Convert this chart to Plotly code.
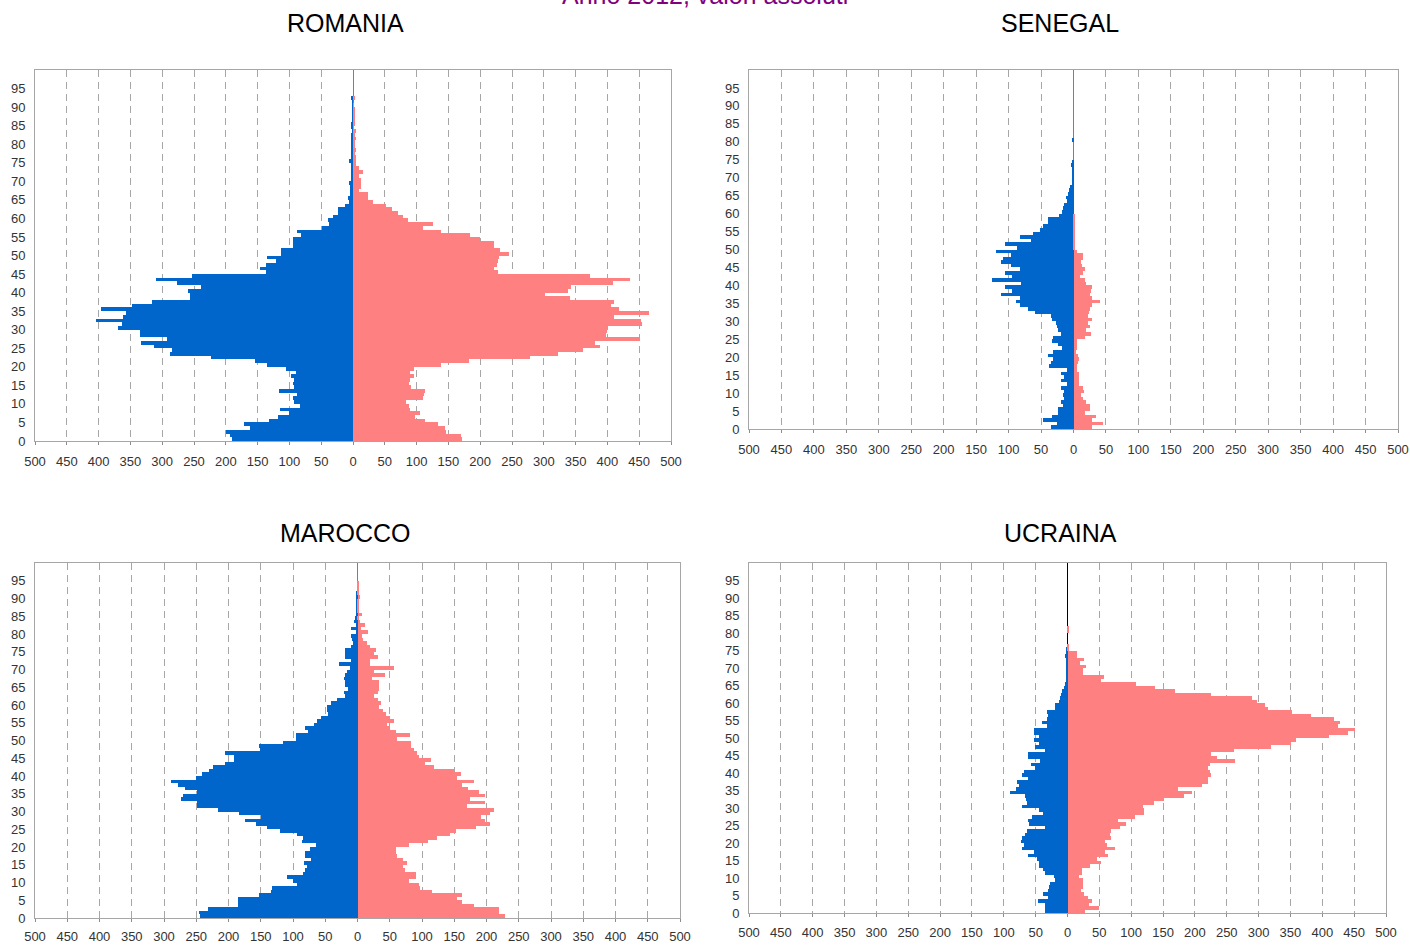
import plotly.graph_objects as go
from plotly.subplots import make_subplots

W, H = 1410, 945
AGES = list(range(100))

def pad(v):
    return v + [0] * (100 - len(v))

# ---------------- data (ages 0..99) ----------------
RO_M = pad([190, 193, 199, 162, 171, 132, 118, 101, 115, 84, 92, 94, 88, 116, 92, 94, 92, 97, 90, 106,
            135, 154, 223, 287, 285, 313, 333, 293, 335, 335, 369, 364, 404, 362, 357, 397, 348, 316, 256, 257,
            259, 239, 276, 309, 253, 137, 147, 137, 121, 135, 114, 113, 95, 95, 94, 82, 88, 48, 38, 40,
            31, 23, 23, 12, 7, 8, 4, 5, 5, 7, 3, 3, 3, 3, 2, 7, 3, 3, 3, 3,
            3, 2, 2, 1, 2, 2, 1, 1, 1, 1, 1, 1, 2])
RO_F = pad([172, 170, 146, 144, 134, 113, 98, 106, 89, 88, 83, 110, 112, 113, 91, 88, 89, 96, 90, 96,
            138, 183, 279, 322, 362, 388, 381, 452, 398, 400, 401, 455, 453, 410, 466, 418, 405, 410, 341, 302,
            338, 343, 409, 435, 372, 228, 222, 226, 228, 230, 246, 231, 222, 222, 200, 184, 138, 110, 126, 86,
            79, 70, 62, 52, 32, 24, 24, 10, 13, 12, 12, 10, 15, 10, 5, 5, 5, 3, 4, 3,
            3, 4, 3, 5, 1, 2, 2, 3, 2, 2, 1, 0, 3])

SN_M = pad([35, 26, 47, 33, 24, 24, 16, 20, 15, 16, 15, 19, 10, 20, 14, 20, 10, 37, 35, 31,
            39, 31, 18, 24, 33, 31, 20, 24, 25, 27, 33, 35, 59, 70, 82, 89, 82, 112, 95, 105,
            81, 125, 94, 105, 82, 97, 112, 108, 97, 120, 87, 105, 66, 82, 62, 51, 47, 39, 39, 22,
            17, 16, 14, 10, 12, 8, 7, 5, 3, 1, 1, 1, 1, 4, 3, 0, 0, 0, 0, 0,
            3])
SN_F = pad([29, 46, 29, 34, 17, 25, 25, 20, 15, 12, 16, 14, 9, 9, 9, 9, 5, 5, 7, 8,
            7, 4, 6, 6, 6, 18, 27, 20, 26, 22, 29, 22, 24, 25, 28, 41, 29, 26, 27, 28,
            19, 18, 10, 14, 17, 13, 12, 14, 14, 5, 3, 3, 2, 3, 2, 2, 2, 2, 2, 1])

MA_M = pad([244, 246, 232, 185, 185, 185, 153, 134, 132, 94, 100, 110, 84, 82, 79, 83, 72, 82, 82, 74,
            65, 86, 84, 94, 120, 140, 158, 174, 150, 184, 216, 249, 249, 273, 271, 249, 268, 279, 289, 251,
            241, 230, 224, 206, 192, 192, 206, 151, 153, 115, 96, 96, 76, 82, 68, 63, 57, 46, 48, 48,
            41, 32, 19, 21, 14, 20, 19, 21, 20, 17, 12, 28, 10, 19, 20, 19, 10, 7, 8, 10,
            3, 10, 3, 5, 4, 3, 3, 3, 1, 1, 3, 1])
MA_F = pad([228, 219, 220, 180, 162, 154, 162, 116, 97, 95, 80, 90, 90, 73, 71, 76, 71, 61, 59, 59,
            80, 109, 123, 143, 152, 183, 205, 198, 191, 205, 212, 169, 198, 174, 197, 188, 171, 162, 180, 154,
            160, 150, 118, 105, 114, 95, 92, 88, 83, 83, 61, 81, 59, 50, 46, 57, 50, 44, 40, 33,
            37, 31, 26, 32, 33, 34, 34, 23, 43, 26, 57, 19, 19, 31, 26, 28, 19, 14, 9, 7,
            17, 6, 12, 4, 3, 7, 1, 1, 2, 1, 4, 1, 1, 1, 1])

UA_M = pad([35, 35, 36, 46, 30, 39, 30, 29, 28, 19, 21, 35, 39, 44, 45, 48, 62, 53, 71, 69,
            73, 71, 67, 64, 36, 60, 62, 55, 39, 44, 71, 64, 65, 67, 91, 81, 76, 80, 62, 72,
            69, 51, 58, 43, 62, 62, 35, 51, 44, 53, 45, 53, 53, 32, 40, 32, 31, 32, 20, 20,
            13, 11, 10, 9, 6, 4, 3, 2, 1, 1, 1, 1, 1, 4, 1, 2])
UA_F = pad([28, 49, 33, 39, 32, 26, 21, 24, 24, 24, 18, 23, 23, 35, 53, 47, 63, 59, 75, 62,
            59, 68, 66, 69, 83, 92, 80, 106, 120, 120, 118, 136, 151, 183, 196, 174, 211, 220, 221, 225,
            223, 220, 223, 263, 234, 225, 261, 320, 351, 358, 410, 440, 452, 425, 428, 419, 383, 353, 315, 310,
            297, 290, 225, 168, 138, 107, 52, 57, 24, 24, 29, 20, 26, 15, 15, 3, 3, 0, 0, 0,
            3, 3])

X_TICKS = list(range(-500, 501, 50))
X_TEXT = [str(abs(t)) for t in X_TICKS]
Y_TICKS = list(range(0, 96, 5))

BLUE = "#0066CC"
PINK = "#FF8080"
FONT = "Liberation Sans"

# name, male, female, row, col, (x0, x1, y0, y1) in px, zero-line colour, title centre, label standoff
PANELS = [
    ("ROMANIA", RO_M, RO_F, 1, 1, (35, 671, 70, 441), "#7F7F7F", (345, 23), 5),
    ("SENEGAL", SN_M, SN_F, 1, 2, (749, 1398, 70, 429), "#7F7F7F", (1060, 23), 5),
    ("MAROCCO", MA_M, MA_F, 2, 1, (35, 680, 563, 918), "#7F7F7F", (345, 533), 3),
    ("UCRAINA", UA_M, UA_F, 2, 2, (749, 1386, 563, 913), "#000000", (1060, 533), 4),
]

fig = make_subplots(rows=2, cols=2)
annotations = []
for name, male, female, r, c, (x0, x1, y0, y1), zc, (tx, ty), so in PANELS:
    fig.add_trace(go.Bar(y=AGES, x=[-v for v in male], orientation="h", width=1, offset=0,
                         marker=dict(color=BLUE, line=dict(width=0)), showlegend=False,
                         hoverinfo="skip"), row=r, col=c)
    fig.add_trace(go.Bar(y=AGES, x=female, orientation="h", width=1, offset=0,
                         marker=dict(color=PINK, line=dict(width=0)), showlegend=False,
                         hoverinfo="skip"), row=r, col=c)
    fig.update_xaxes(domain=[x0 / W, x1 / W], range=[-500, 500], tickvals=X_TICKS, ticktext=X_TEXT,
                     showgrid=True, gridcolor="#A6A6A6", griddash="7px,5px", gridwidth=1,
                     zeroline=True, zerolinecolor=zc, zerolinewidth=1,
                     showline=True, mirror=True, linecolor="#A6A6A6", linewidth=1,
                     ticks="outside", ticklen=3, tickcolor="#8C8C8C", ticklabelstandoff=so,
                     tickfont=dict(family=FONT, size=13, color="#333333"), fixedrange=True,
                     automargin=False, row=r, col=c)
    fig.update_yaxes(domain=[1 - y1 / H, 1 - y0 / H], range=[0, 100], tickvals=Y_TICKS,
                     showgrid=False, zeroline=False,
                     showline=True, mirror=True, linecolor="#A6A6A6", linewidth=1,
                     ticks="", ticklabelstandoff=6,
                     tickfont=dict(family=FONT, size=13, color="#333333"), fixedrange=True,
                     automargin=False, row=r, col=c)
    annotations.append(dict(text=name, x=tx / W, y=1 - ty / H, xref="paper", yref="paper",
                            xanchor="center", yanchor="middle", showarrow=False,
                            font=dict(family=FONT, size=25, color="#000000")))

annotations.append(dict(text="Anno 2012, valori assoluti", x=705 / W, y=1 - 11 / H,
                        xref="paper", yref="paper", xanchor="center", yanchor="bottom",
                        showarrow=False, font=dict(family=FONT, size=25, color="#800080")))

fig.update_layout(width=W, height=H, margin=dict(l=0, r=0, t=0, b=0, autoexpand=False),
                  barmode="overlay", bargap=0,
                  plot_bgcolor="white", paper_bgcolor="white",
                  annotations=annotations)

fig.write_html("out.html", config={"displayModeBar": False},
               post_script="document.body.style.margin='0';document.body.style.overflow='hidden';")
